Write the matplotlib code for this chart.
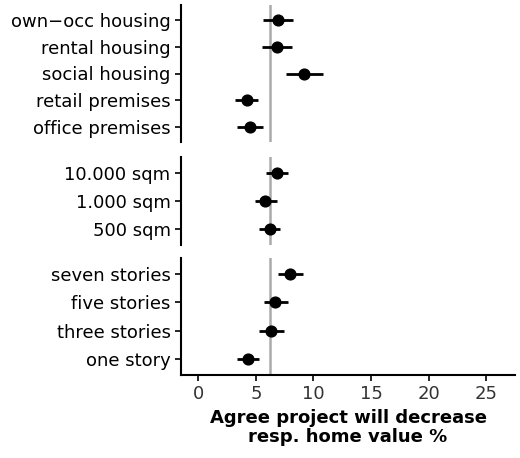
import matplotlib
matplotlib.use("Agg")
import matplotlib.pyplot as plt

# groups top to bottom; labels listed top to bottom
use_labels = ["own\u2212occ housing", "rental housing", "social housing", "retail premises", "office premises"]
use_est = [6.9, 6.8, 9.2, 4.2, 4.5]
use_lo = [5.6, 5.5, 7.6, 3.2, 3.4]
use_hi = [8.2, 8.1, 10.8, 5.2, 5.6]

size_labels = ["10.000 sqm", "1.000 sqm", "500 sqm"]
size_est = [6.8, 5.8, 6.2]
size_lo = [5.9, 4.9, 5.3]
size_hi = [7.8, 6.8, 7.1]

height_labels = ["seven stories", "five stories", "three stories", "one story"]
height_est = [8.0, 6.7, 6.3, 4.3]
height_lo = [6.9, 5.7, 5.3, 3.4]
height_hi = [9.1, 7.8, 7.4, 5.3]

baseline = 6.25

groups = [
    (use_labels, use_est, use_lo, use_hi),
    (size_labels, size_est, size_lo, size_hi),
    (height_labels, height_est, height_lo, height_hi),
]

fig = plt.figure(figsize=(5.2, 4.58), dpi=100)
boxes = [(5, 142), (157, 245), (258, 375)]
left, right = 181 / 520, 515 / 520
axes = []
for (top, bot), (labels, est, lo, hi) in zip(boxes, groups):
    ax = fig.add_axes([left, 1 - bot / 458, right - left, (bot - top) / 458])
    n = len(labels)
    ys = list(range(n))[::-1]
    ax.axvline(baseline, color="#aaaaaa", lw=1.8, zorder=1)
    ax.hlines(ys, lo, hi, color="black", lw=2, zorder=2)
    ax.scatter(est, ys, s=60, color="black", zorder=3)
    ax.set_ylim(-0.55, n - 0.45)
    ax.set_yticks(ys)
    ax.set_yticklabels(labels, fontsize=13)
    ax.set_xlim(-1.5, 27.5)
    for s in ["top", "right", "bottom"]:
        ax.spines[s].set_visible(False)
    ax.spines["left"].set_linewidth(1.5)
    ax.tick_params(axis="y", length=4, width=1.2)
    ax.tick_params(axis="x", bottom=False, labelbottom=False)
    axes.append(ax)

ax = axes[-1]
ax.spines["bottom"].set_visible(True)
ax.spines["bottom"].set_linewidth(1.5)
ax.set_xticks([0, 5, 10, 15, 20, 25])
ax.tick_params(axis="x", bottom=True, labelbottom=True, labelsize=13, length=4, width=1.2, labelcolor="#333333")
ax.set_xlabel("Agree project will decrease\nresp. home value %", fontsize=13, fontweight="bold", linespacing=1.1)

fig.savefig("out.png", dpi=100)
